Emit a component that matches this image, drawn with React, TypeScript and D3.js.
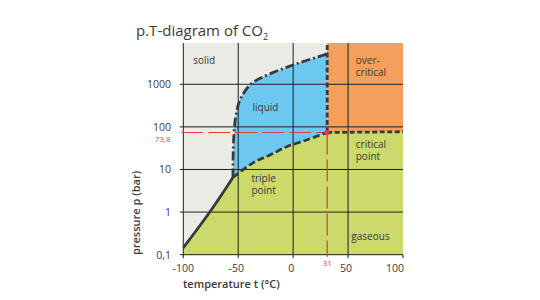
import React from "react";
import * as d3 from "d3";

// ---- data ----
const tempTicks = [-100, -50, 0, 50, 100];
const tempTickLabels = ["-100", "-50", "0", "50", "100"];
const pressureTicks = [0.1, 1, 10, 100, 1000];
const pressureTickLabels = ["0,1", "1", "10", "100", "1000"];

const tempDomain: [number, number] = [-100, 100];
const pressureDomain: [number, number] = [0.1, 9300];

// [temperature °C, pressure bar]
const sublimationCurve: [number, number][] = [
  [-100, 0.146],
  [-75.7, 1.02],
  [-54.8, 6.5],
];
const meltingCurve: [number, number][] = [
  [-54.8, 6.5],
  [-54.5, 30],
  [-53.4, 99.5],
  [-52, 190],
  [-48.4, 428],
  [-39.3, 963],
  [-27.5, 1484],
  [-0.1, 2838],
  [31, 5140],
];
const vaporCurve: [number, number][] = [
  [-54.8, 6.5],
  [-36.3, 14.5],
  [-21.1, 21.9],
  [-5.9, 34.3],
  [12.3, 49.3],
  [31, 73.8],
];
const criticalBoundary: [number, number][] = [
  [31, 73.8],
  [100, 77],
];
const criticalPoint = { t: 31, p: 73.8, tLabel: "31", pLabel: "73,8" };

const regionLabels = [
  { lines: ["solid"], t: -91, p: 3000 },
  { lines: ["liquid"], t: -37, p: 230 },
  { lines: ["over-", "critical"], t: 57, p: 3000 },
  { lines: ["critical", "point"], t: 57, p: 32 },
  { lines: ["triple", "point"], t: -38, p: 5.2 },
  { lines: ["gaseous"], t: 53, p: 0.22 },
];

const FONT = "'Open Sans', 'Noto Sans', sans-serif";

export default function App() {
  const W = 540;
  const H = 300;

  const x = d3.scaleLinear().domain(tempDomain).range([183.3, 403]);
  const y = d3.scaleLog().domain(pressureDomain).range([254.7, 43]);

  const line = d3
    .line<[number, number]>()
    .x((d) => x(d[0]))
    .y((d) => y(d[1]))
    .curve(d3.curveCatmullRom.alpha(0.5));
  const straight = d3
    .line<[number, number]>()
    .x((d) => x(d[0]))
    .y((d) => y(d[1]));

  const join = (...parts: string[]) =>
    parts.map((p, i) => (i === 0 ? p : "L" + p.slice(1))).join("") + "Z";

  const [tMin, tMax] = tempDomain;
  const [pMin, pMax] = pressureDomain;

  const greenPath = join(
    line(sublimationCurve)!,
    line(vaporCurve)!,
    straight([...criticalBoundary, [tMax, pMin], [tMin, pMin]])!
  );
  const bluePath = join(
    line(meltingCurve)!,
    straight([[criticalPoint.t, criticalPoint.p]])!,
    line([...vaporCurve].reverse())!
  );
  const orangePath =
    straight([
      [criticalPoint.t, pMax],
      [tMax, pMax],
      ...[...criticalBoundary].reverse(),
    ])! + "Z";

  const dark = "#37393f";
  const red = "#e0403e";
  const textCol = "#3a3a3a";

  const cx = x(criticalPoint.t);
  const cy = y(criticalPoint.p);

  return (
    <svg
      width={W}
      height={H}
      style={{ position: "absolute", left: 0, top: 0, background: "#fff" }}
      fontFamily={FONT}
    >
      {/* title */}
      <text x={136} y={36} fontSize={15} fill={textCol}>
        p.T-diagram of CO
        <tspan fontSize={9} dy={4}>
          2
        </tspan>
      </text>

      {/* background regions */}
      <rect
        x={x(tMin)}
        y={y(pMax)}
        width={x(tMax) - x(tMin)}
        height={y(pMin) - y(pMax)}
        fill="#ebebe5"
      />
      <path d={greenPath} fill="#ccd96b" />
      <path d={bluePath} fill="#6cc8ee" />
      <path d={orangePath} fill="#f4a05c" />

      {/* grid */}
      {pressureTicks.map((p) => (
        <line
          key={"h" + p}
          x1={x(tMin) - 3.5}
          x2={x(tMax)}
          y1={y(p)}
          y2={y(p)}
          stroke="#1e1e1e"
          strokeWidth={1}
        />
      ))}
      {tempTicks.map((t, i) => (
        <line
          key={"v" + t}
          x1={x(t)}
          x2={x(t)}
          y1={i === tempTicks.length - 1 ? y(pMin) : y(pMax)}
          y2={y(pMin) + 3.5}
          stroke="#1e1e1e"
          strokeWidth={1}
        />
      ))}

      {/* red reference lines */}
      <line
        x1={x(tMin) - 2}
        x2={cx}
        y1={cy}
        y2={cy}
        stroke={red}
        strokeWidth={1.2}
        strokeDasharray="22 5"
      />
      <line
        x1={cx}
        x2={cx}
        y1={cy}
        y2={y(pMin) + 2}
        stroke={red}
        strokeWidth={1.3}
        strokeDasharray="22 5"
      />

      {/* phase boundaries */}
      <path d={line(sublimationCurve)!} fill="none" stroke={dark} strokeWidth={2.8} />
      <path
        d={line(meltingCurve)!}
        fill="none"
        stroke={dark}
        strokeWidth={2.8}
        strokeDasharray="9 3 2 3"
      />
      <path
        d={line(vaporCurve)!}
        fill="none"
        stroke={dark}
        strokeWidth={2.8}
        strokeDasharray="7 3"
      />
      <path
        d={straight(criticalBoundary)!}
        fill="none"
        stroke={dark}
        strokeWidth={2.8}
        strokeDasharray="5 2.5"
      />
      <line
        x1={cx}
        x2={cx}
        y1={cy}
        y2={y(pMax)}
        stroke={dark}
        strokeWidth={2.8}
        strokeDasharray="5 2.5"
      />
      <circle cx={cx} cy={cy} r={2.6} fill={red} />

      {/* region labels */}
      {regionLabels.map((r, i) => (
        <text key={i} x={x(r.t)} y={y(r.p)} fontSize={10} fill={textCol}>
          {r.lines.map((l, j) => (
            <tspan key={j} x={x(r.t)} dy={j === 0 ? 0 : 12.5}>
              {l}
            </tspan>
          ))}
        </text>
      ))}

      {/* axis tick labels */}
      {pressureTicks.map((p, i) => (
        <text
          key={"yl" + p}
          x={171}
          y={y(p) + 3.8}
          fontSize={10.5}
          textAnchor="end"
          fill={textCol}
        >
          {pressureTickLabels[i]}
        </text>
      ))}
      {tempTicks.map((t, i) => (
        <text
          key={"xl" + t}
          x={x(t) + (i === 0 ? 0 : i === tempTicks.length - 1 ? 1 : -2)}
          y={271.5}
          fontSize={10.5}
          textAnchor={i === tempTicks.length - 1 ? "end" : "middle"}
          fill={textCol}
        >
          {tempTickLabels[i]}
        </text>
      ))}
      <text x={170.5} y={141.5} fontSize={8} textAnchor="end" fill={red}>
        {criticalPoint.pLabel}
      </text>
      <text x={cx} y={266} fontSize={8} textAnchor="middle" fill={red}>
        {criticalPoint.tLabel}
      </text>

      {/* axis titles */}
      <text x={183} y={288} fontSize={11} fontWeight={600} fill={textCol}>
        temperature t (°C)
      </text>
      <text
        transform="translate(140,213) rotate(-90)"
        fontSize={11}
        fontWeight={600}
        textAnchor="middle"
        fill={textCol}
      >
        pressure p (bar)
      </text>
    </svg>
  );
}
